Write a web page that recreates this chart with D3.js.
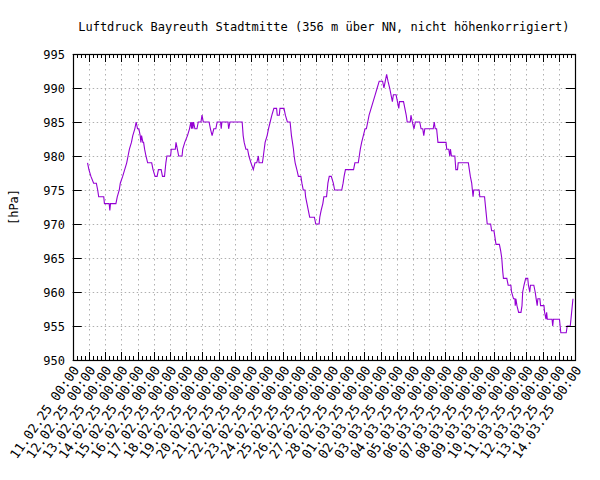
<!DOCTYPE html>
<html><head><meta charset="utf-8">
<script src="https://cdn.jsdelivr.net/npm/d3@7"></script>
<style>body{margin:0;background:#fff}svg{display:block}</style>
</head><body><svg id="c" width="600" height="480"></svg>
<script>
const title = "Luftdruck Bayreuth Stadtmitte (356 m über NN, nicht höhenkorrigiert)";
const yLabel = "[hPa]";
const startTime = new Date(2025, 1, 11, 0, 0);
const endTime = new Date(2025, 2, 14, 0, 0);
const yTicks = [950, 955, 960, 965, 970, 975, 980, 985, 990, 995];
// hours since 11.02.25 00:00
const hours = [22,24,27,31,35,37,38.5,46,47,54,55,56,64,66,69,70.5,74,77,80,82,84,87,89,92,94,96,98,100,101,102,104,105,106.5,108.5,111,117,119,122,125,127,131,133,136,138,139.5,145,146,152,153,155,157,162,163,166,170,173,175,176,177,178,179,181,184,186,190,191.5,193.5,202,204,206.5,209,212,214,219,220,221,230,231,233,251,252.5,254,256.5,259,261,264,267.5,270,272.6,275,276,281,282.4,285,288,290,292.5,295,298,302,303,306,307,313,315,318,322,324,325.5,327,328,329.5,332,334.3,338,339.5,341.5,344,345,347,349,351,358,360,365,366,368,370.5,372,376,378,380,383,386,388,398.5,400.5,402,404,416,418,423,424.5,426,428,430.5,433,435,437,439,442,445,448,451,454,459,461,463,465,467,469.5,471.5,473.5,475,479,481,483,484,490,492,494,495.5,500,501,503,505.5,507.5,514,516,518.5,520,521.5,534,535.5,537,539,541,553,554,557,558.5,559.5,561,566,567.5,570,571,586,587.5,589,591,593,594,602,603,610,612,614,619,620.5,624,625.5,627,632,634,635.5,637,638,643,645,649,650,653,655,655.5,656.5,658,660.5,664,665.5,666.5,668.5,671,674,675,677,678,683,685,686.5,688,689,692,693,698,699,701,702,703,710,711,712,721,723,731,732.5,737,738,739,741];
const pressure = [979,978,977,976,976,975,974,974,973,973,972,973,973,974,975,976,977,978,979,980,981,982,983,984,985,984,984,983,982,983,982,982,981,980,979,979,978,977,977,978,978,977,977,979,980,980,981,981,982,981,980,980,981,982,983,984,985,984,985,984,985,984,984,985,985,986,985,985,984,983,984,984,985,985,984,985,985,984,985,985,983,982,981,981,980,979,978,979,979,980,979,979,980,982,983,984,985,986,987,987,986,986,987,987,986,985,985,983,982,981,980,979,978,977,977,976,975,975,974,973,972,971,971,970,970,971,972,973,974,974,976,977,977,976,975,975,976,977,978,978,979,979,980,981,982,983,984,984,985,986,987,988,989,990,991,991,990,991,992,991,990,989,988,989,989,988,987,988,988,987,986,985,985,986,985,984,985,985,984,984,983,984,984,985,984,984,982,982,981,981,980,981,980,980,978,978,979,979,978,977,976,974,975,975,974,974,972,970,970,969,969,968,967,967,966,965,963,962,962,961,961,960,959,959,958,959,958,957,957,958,960,961,962,962,961,960,961,961,960,959,958,959,959,958,958,957,956,957,956,956,955,956,956,954,954,955,955,956,957,959];

const svg = d3.select("#c");
const font = "'DejaVu Sans Mono', monospace";
const m = {left: 72.7, right: 575, top: 54, bottom: 360};

const x = d3.scaleTime().domain([startTime, endTime]).range([m.left, m.right]);
const y = d3.scaleLinear().domain([950, 995]).range([m.bottom, m.top]);

const data = hours.map((h, i) => ({t: new Date(startTime.getTime() + h * 3600e3), v: pressure[i]}));

const dayTicks = d3.timeDay.range(startTime, d3.timeDay.offset(endTime, 1));
const minorTicks = d3.timeHour.every(6).range(startTime, endTime);

// grid
const grid = svg.append("g").attr("stroke", "#b0b0b0").attr("stroke-width", 1);
grid.selectAll("line.v").data(dayTicks.filter(d => x(d) > m.left + 1 && x(d) < m.right - 1)).join("line")
  .attr("stroke-dasharray", "1.5,3.5")
  .attr("x1", d => Math.round(x(d)) + 0.5).attr("x2", d => Math.round(x(d)) + 0.5)
  .attr("y1", m.top).attr("y2", m.bottom);
grid.selectAll("line.h").data(yTicks.filter(v => v > 950 && v < 995)).join("line")
  .attr("stroke-dasharray", "1.5,2.5")
  .attr("x1", m.left).attr("x2", m.right)
  .attr("y1", d => Math.round(y(d)) + 0.5).attr("y2", d => Math.round(y(d)) + 0.5);

// data line
svg.append("path").datum(data)
  .attr("fill", "none").attr("stroke", "#9400d3").attr("stroke-width", 1.1)
  .attr("stroke-linejoin", "miter")
  .attr("d", d3.line().x(d => x(d.t)).y(d => y(d.v)));

// axes with inward ticks
const tickG = svg.append("g").attr("stroke", "#000").attr("stroke-width", 1);
function vt(xx, y0, len) {
  tickG.append("line").attr("x1", xx).attr("x2", xx).attr("y1", y0).attr("y2", y0 + len);
}
minorTicks.forEach(d => {
  const isMajor = d.getHours() === 0;
  const len = isMajor ? 8 : 4;
  const xx = Math.round(x(d)) + 0.5;
  vt(xx, m.bottom, -len);
  vt(xx, m.top, len);
});
yTicks.forEach(v => {
  const yy = Math.round(y(v)) + 0.5;
  tickG.append("line").attr("x1", m.left).attr("x2", m.left + 9).attr("y1", yy).attr("y2", yy);
  tickG.append("line").attr("x1", m.right).attr("x2", m.right - 9).attr("y1", yy).attr("y2", yy);
});

svg.append("rect").attr("x", Math.round(m.left) + 0.5).attr("y", m.top + 0.5)
  .attr("width", Math.round(m.right) - Math.round(m.left)).attr("height", m.bottom - m.top)
  .attr("fill", "none").attr("stroke", "#000").attr("stroke-width", 1.2);

// y tick labels
svg.append("g").selectAll("text").data(yTicks).join("text")
  .attr("x", 65).attr("y", d => y(d) + 4.5)
  .attr("text-anchor", "end").attr("font-family", font).attr("font-size", 12)
  .text(d => d);

// x tick labels
const fmt = d3.timeFormat("%d.%m.%y %H:%M");
svg.append("g").selectAll("text").data(dayTicks.filter(d => d <= endTime)).join("text")
  .attr("transform", d => `translate(${x(d) + 7},${370}) rotate(-55)`)
  .attr("text-anchor", "end").attr("font-family", font).attr("font-size", 13)
  .text(d => fmt(d));

// title
svg.append("text").attr("x", (m.left + m.right) / 2).attr("y", 31)
  .attr("text-anchor", "middle").attr("font-family", font).attr("font-size", 12)
  .text(title);

// y label
svg.append("text").attr("transform", `translate(18,${(m.top + m.bottom) / 2}) rotate(-90)`)
  .attr("text-anchor", "middle").attr("font-family", font).attr("font-size", 12)
  .text(yLabel);
</script></body></html>
